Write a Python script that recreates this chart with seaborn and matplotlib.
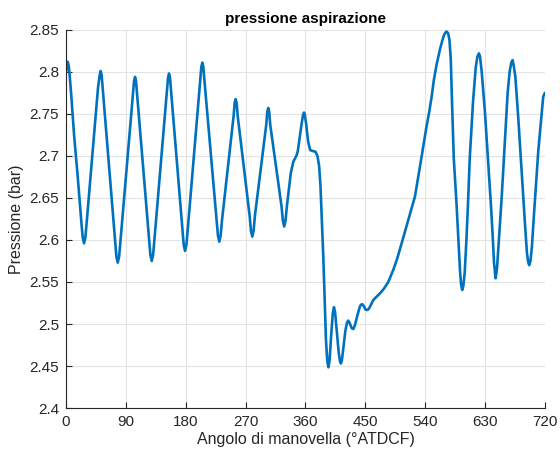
import numpy as np
import pandas as pd
import matplotlib
matplotlib.use("Agg")
import matplotlib.pyplot as plt
import seaborn as sns

# crank angle (deg)
angle = [0, 1.2, 2.5, 4, 6, 8, 12, 17, 21, 23, 25, 27, 29, 31,
         48, 50.5, 52, 53.5, 55, 73.7, 75.7, 77.7, 79.7, 81.7,
         100.7, 102.2, 103.7, 105.2, 106.7, 124.8, 126.8, 128.8, 130.8, 132.8,
         151.8, 153.3, 154.8, 156.3, 157.8, 174.9, 176.9, 178.9, 180.9, 182.9,
         201.9, 203.4, 204.9, 206.4, 207.9, 226.4, 228.4, 230.4, 232.4, 234.4,
         252, 253.5, 255, 256.5, 258, 276, 278, 280, 282, 284,
         301, 302.5, 304, 305.5, 307, 324, 326, 328, 330, 332,
         338, 341.7, 346.8, 348.5, 354.5, 356.5, 357.8, 359, 361, 364, 367, 370, 375, 378,
         380.5, 382.5, 386.8, 390.8, 392.8, 394.5, 396.3, 398.5, 401, 402.8, 404.5,
         407, 410, 411.8, 413.3, 414.8, 417, 420, 422.5, 424.4, 426.5, 429.5, 432,
         434.5, 438, 441.5, 443.5, 445.4, 448, 450.5, 453.4, 456, 462, 472, 478,
         484.5, 492, 498, 504.6, 514.6, 524.6, 534.6, 542, 546, 550, 553, 557, 562, 566,
         569, 572, 574.5, 576.5, 578.5, 580.5, 583, 587, 590, 592.5, 594, 595.7,
         597.5, 599.5, 602, 604.5, 607, 612, 616, 618.5, 620.8, 622.5, 625, 629.8,
         635, 639, 641.5, 643.5, 645.9, 648, 650.5, 655, 660, 664, 667, 669.5, 671.4,
         673, 675.5, 680, 686, 690, 693, 694.8, 696.4, 698.3, 700.5, 704, 710, 717.5, 720]

# suction pressure (bar)
pressure = [2.800, 2.809, 2.812, 2.807, 2.790, 2.770, 2.725, 2.680, 2.640, 2.621, 2.603, 2.596, 2.603, 2.621,
            2.781, 2.796, 2.801, 2.796, 2.781, 2.598, 2.580, 2.573, 2.580, 2.598,
            2.774, 2.789, 2.794, 2.789, 2.774, 2.600, 2.582, 2.575, 2.582, 2.600,
            2.778, 2.793, 2.798, 2.793, 2.778, 2.612, 2.594, 2.587, 2.594, 2.612,
            2.791, 2.806, 2.811, 2.806, 2.791, 2.623, 2.605, 2.598, 2.605, 2.623,
            2.748, 2.763, 2.7675, 2.763, 2.748, 2.629, 2.611, 2.604, 2.611, 2.629,
            2.737, 2.752, 2.757, 2.752, 2.737, 2.640, 2.623, 2.616, 2.623, 2.640,
            2.680, 2.693, 2.701, 2.706, 2.740, 2.749, 2.7516, 2.749, 2.738, 2.717, 2.707, 2.706, 2.705, 2.700,
            2.688, 2.665, 2.580, 2.481, 2.456, 2.4485, 2.457, 2.485, 2.512, 2.520, 2.514,
            2.492, 2.466, 2.456, 2.453, 2.457, 2.472, 2.492, 2.502, 2.504, 2.501, 2.495, 2.494,
            2.499, 2.510, 2.520, 2.523, 2.5235, 2.521, 2.517, 2.5167, 2.519, 2.5286, 2.5365, 2.542,
            2.550, 2.5643, 2.578, 2.596, 2.624, 2.6516, 2.699, 2.735, 2.752, 2.772, 2.790, 2.808, 2.826, 2.838,
            2.845, 2.848, 2.846, 2.838, 2.815, 2.760, 2.697, 2.645, 2.600, 2.562, 2.547, 2.5405,
            2.546, 2.562, 2.600, 2.645, 2.697, 2.765, 2.805, 2.818, 2.822, 2.818, 2.800, 2.753,
            2.690, 2.640, 2.605, 2.573, 2.5544, 2.566, 2.596, 2.650, 2.720, 2.775, 2.800, 2.811, 2.814,
            2.808, 2.795, 2.745, 2.670, 2.620, 2.585, 2.574, 2.570, 2.575, 2.592, 2.635, 2.705, 2.7706, 2.775]

xticks = [0, 90, 180, 270, 360, 450, 540, 630, 720]
yticks = [2.4, 2.45, 2.5, 2.55, 2.6, 2.65, 2.7, 2.75, 2.8, 2.85]
ytick_labels = ["2.4", "2.45", "2.5", "2.55", "2.6", "2.65", "2.7", "2.75", "2.8", "2.85"]

df = pd.DataFrame({"angle": angle, "pressure": pressure})

sns.set_theme(style="whitegrid")
plt.rcParams["font.family"] = ["Liberation Sans", "DejaVu Sans"]

fig = plt.figure(figsize=(5.6, 4.59), dpi=100)
ax = fig.add_axes([0.118, 0.111, 0.855, 0.824])

sns.lineplot(data=df, x="angle", y="pressure", ax=ax, sort=False, estimator=None,
             color="#0072BD", linewidth=1.9)
ax.lines[0].set_solid_joinstyle("round")
ax.lines[0].set_solid_capstyle("round")

ax.set_xlim(0, 720)
ax.set_ylim(2.4, 2.85)
ax.set_xticks(xticks)
ax.set_xticklabels([str(t) for t in xticks])
ax.set_yticks(yticks)
ax.set_yticklabels(ytick_labels)

ax.grid(True, color="#e3e3e3", linewidth=0.8)
ax.set_axisbelow(True)
for side in ["top", "right"]:
    ax.spines[side].set_visible(False)
for side in ["left", "bottom"]:
    ax.spines[side].set_visible(True)
    ax.spines[side].set_color("#262626")
    ax.spines[side].set_linewidth(0.8)

ax.tick_params(axis="both", direction="in", length=4, width=0.8, color="#262626",
               labelsize=11, labelcolor="#262626", pad=5, left=True, bottom=True)

ax.set_xlabel("Angolo di manovella (°ATDCF)", fontsize=11.5, color="#262626", labelpad=2)
ax.set_ylabel("Pressione (bar)", fontsize=11.5, color="#262626", labelpad=4)
ax.set_title("pressione aspirazione", fontsize=11, fontweight="bold", color="black", pad=5)

fig.savefig("out.png", dpi=100, facecolor="white")
